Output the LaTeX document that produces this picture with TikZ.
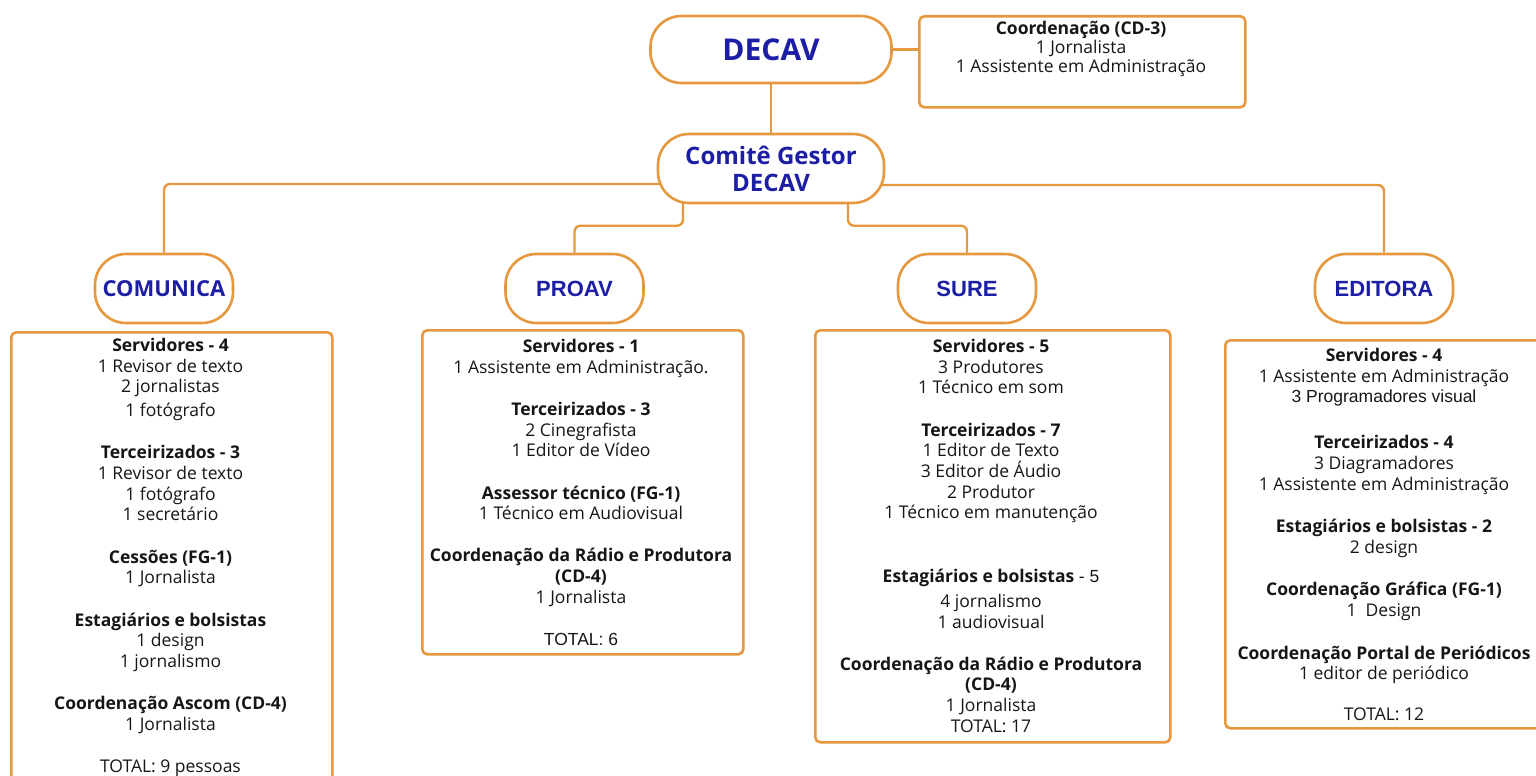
\documentclass[tikz,border=0pt]{standalone}
\usepackage{fontspec}
\setmainfont{Open Sans}
\newfontfamily\arialf{Liberation Sans}
\definecolor{org}{RGB}{229,152,62}
\definecolor{ttl}{RGB}{28,30,165}
\definecolor{txt}{RGB}{22,22,22}
\pgfdeclarelayer{bg}
\pgfsetlayers{bg,main}
\begin{document}
\begin{tikzpicture}[x=1pt,y=-1pt,
  pill/.style={draw=org, line width=2.6pt, fill=white, rounded corners=31pt, inner sep=0pt, text=ttl, align=center},
  subpill/.style={pill, minimum width=138pt, minimum height=69pt},
  box/.style={draw=org, line width=2.6pt, fill=white, rounded corners=5pt, inner sep=0pt, anchor=north west},
  conn/.style={draw=org, line width=2.4pt, rounded corners=6pt},
  body/.style={inner sep=0pt, anchor=north, align=center, text=txt, font=\fontsize{17.5}{20.7}\selectfont},
  ttlU/.style={font=\fontsize{22}{26}\selectfont\bfseries},
  ttlA/.style={font=\fontsize{22}{26}\selectfont\arialf\bfseries}
]
\useasboundingbox (0,0) rectangle (1536,776);

% top nodes
\node[pill, minimum width=241pt, minimum height=67pt, font=\fontsize{30}{34}\selectfont\bfseries] (decav) at (771,49.5) {DECAV};
\node[box, minimum width=326pt, minimum height=91pt] (coord) at (918,15) {};
\node[body, font=\fontsize{17.5}{19}\selectfont] (coordtxt) at (1081,21.5) {\textbf{Coordenação (CD-3)}\\1 Jornalista\\1 Assistente em Administração};
\node[pill, minimum width=226pt, minimum height=69pt, font=\fontsize{24}{27}\selectfont\bfseries] (comite) at (771,168.5) {Comitê Gestor\\DECAV};

% sub pills
\node[subpill, ttlU] (comunica) at (164,288.5) {COMUNICA};
\node[subpill, ttlA] (proav) at (574.5,288.5) {PROAV};
\node[subpill, ttlA] (sure) at (967,288.5) {SURE};
\node[subpill, ttlA] (editora) at (1384,288.5) {EDITORA};

% boxes
\node[box, minimum width=321pt, minimum height=470pt] (bcom) at (10,331) {};
\node[box, minimum width=321pt, minimum height=324pt] (bpro) at (421,329) {};
\node[box, minimum width=355pt, minimum height=412pt] (bsur) at (814,329) {};
\node[box, minimum width=330pt, minimum height=388pt] (bedi) at (1224,339) {};

% box texts
\node[body] (tcom) at (170.5,338) {\textbf{Servidores - 4}\\1 Revisor de texto\\2 jornalistas\\[3pt]1 fotógrafo\\[21.5pt]\textbf{Terceirizados - 3}\\1 Revisor de texto\\1 fotógrafo\\1 secretário\\[21.5pt]\textbf{Cessões (FG-1)}\\1 Jornalista\\[21.5pt]\textbf{Estagiários e bolsistas}\\1 design\\1 jornalismo\\[21.5pt]\textbf{Coordenação Ascom (CD-4)}\\1 Jornalista\\[21.5pt]TOTAL: 9 pessoas};

\node[body] (tpro) at (581,339) {\textbf{Servidores - 1}\\1 Assistente em Administração.\\[21.5pt]\textbf{Terceirizados - 3}\\2 Cinegrafista\\1 Editor de Vídeo\\[21.5pt]\textbf{Assessor técnico (FG-1)}\\1 Técnico em Audiovisual\\[21.5pt]\textbf{Coordenação da Rádio e Produtora}\\\textbf{(CD-4)}\\1 Jornalista\\[21.5pt]{\arialf TOTAL: 6}};

\node[body] (tsur) at (991,339) {\textbf{Servidores - 5}\\3 Produtores\\1 Técnico em som\\[21.5pt]\textbf{Terceirizados - 7}\\1 Editor de Texto\\3 Editor de Áudio\\2 Produtor\\1 Técnico em manutenção\\[43pt]\textbf{Estagiários e bolsistas} {\arialf - 5}\\[4pt]4 jornalismo\\1 audiovisual\\[21.5pt]\textbf{Coordenação da Rádio e Produtora}\\\textbf{(CD-4)}\\1 Jornalista\\TOTAL: 17};

\node[body] (tedi) at (1384,348) {\textbf{Servidores - 4}\\1 Assistente em Administração\\{\arialf 3 Programadores visual}\\[25pt]\textbf{Terceirizados - 4}\\3 Diagramadores\\1 Assistente em Administração\\[22pt]\textbf{Estagiários e bolsistas - 2}\\2 design\\[21.5pt]\textbf{Coordenação Gráfica (FG-1)}\\1\ \ Design\\[22pt]\textbf{Coordenação Portal de Periódicos}\\1 editor de periódico\\[20pt]TOTAL: 12};

% connectors
\begin{pgfonlayer}{bg}
\draw[conn] (decav.south) -- (comite.north);
\draw[conn] (decav.center) -- (decav.center -| coord.west);
\draw[conn] ([yshift=-15.5pt]comite.center) -| (comunica.north);
\draw[conn] ([yshift=-16.5pt]comite.center) -| (editora.north);
\draw[conn] ([xshift=-88pt]comite.center) |- ([yshift=27pt]proav.north) -- (proav.north);
\draw[conn] ([xshift=77pt]comite.center) |- ([yshift=27pt]sure.north) -- (sure.north);
\end{pgfonlayer}
\end{tikzpicture}
\end{document}
